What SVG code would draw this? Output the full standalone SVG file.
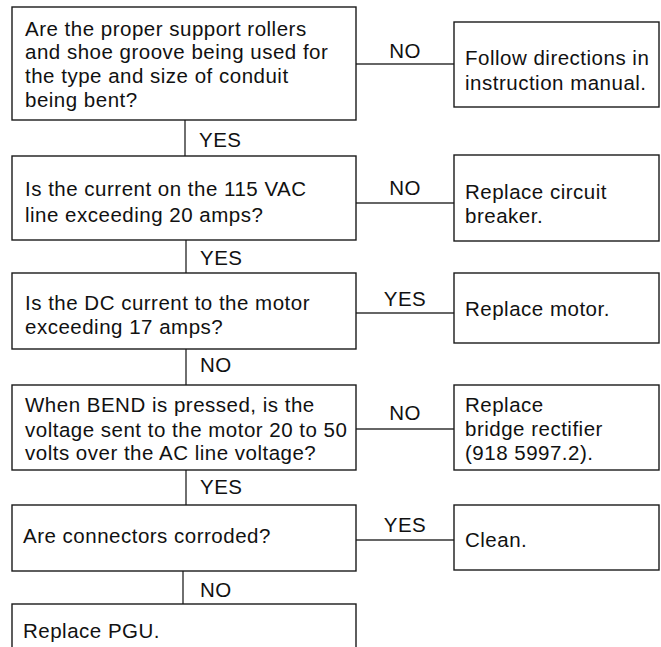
<svg xmlns="http://www.w3.org/2000/svg" width="661" height="647" viewBox="0 0 661 647">
<style>
.box{fill:#fff;stroke:#1a1a1a;stroke-width:1.4}
.t{font-family:"Liberation Sans",Arial,sans-serif;font-size:20.5px;letter-spacing:0.5px;fill:#111}
.lbl{font-family:"Liberation Sans",Arial,sans-serif;font-size:20.5px;letter-spacing:0.5px;fill:#111}
.c{fill:none;stroke:#333;stroke-width:1.4}
</style>
<rect width="661" height="647" fill="#fff"/>
<g id="connectors">
<line class="c" x1="356" y1="64" x2="454" y2="64"/>
<text class="lbl" x="405" y="58" text-anchor="middle">NO</text>
<line class="c" x1="185" y1="120" x2="185" y2="156"/>
<text class="lbl" x="199" y="146.5">YES</text>
<line class="c" x1="356" y1="203" x2="454" y2="203"/>
<text class="lbl" x="405" y="195" text-anchor="middle">NO</text>
<line class="c" x1="186" y1="240" x2="186" y2="273"/>
<text class="lbl" x="200" y="265">YES</text>
<line class="c" x1="356" y1="313" x2="454" y2="313"/>
<text class="lbl" x="405" y="305.5" text-anchor="middle">YES</text>
<line class="c" x1="186" y1="349" x2="186" y2="385"/>
<text class="lbl" x="200" y="371.5">NO</text>
<line class="c" x1="356" y1="429" x2="454" y2="429"/>
<text class="lbl" x="405" y="420" text-anchor="middle">NO</text>
<line class="c" x1="186" y1="470" x2="186" y2="505"/>
<text class="lbl" x="200" y="494">YES</text>
<line class="c" x1="356" y1="540" x2="454" y2="540"/>
<text class="lbl" x="405" y="532" text-anchor="middle">YES</text>
<line class="c" x1="183" y1="571" x2="183" y2="604"/>
<text class="lbl" x="200" y="596.5">NO</text>
</g>
<g id="q1">
<rect class="box" x="12" y="7" width="344" height="113"/>
<text class="t" x="25" y="35.5">Are the proper support rollers</text>
<text class="t" x="25" y="59.3">and shoe groove being used for</text>
<text class="t" x="25" y="83.3">the type and size of conduit</text>
<text class="t" x="25" y="107.3">being bent?</text>
</g>
<g id="a1">
<rect class="box" x="454" y="22" width="205" height="85"/>
<text class="t" x="465" y="65">Follow directions in</text>
<text class="t" x="465" y="90">instruction manual.</text>
</g>
<g id="q2">
<rect class="box" x="12" y="156" width="344" height="84"/>
<text class="t" x="25" y="195.5">Is the current on the 115 VAC</text>
<text class="t" x="25" y="221.7">line exceeding 20 amps?</text>
</g>
<g id="a2">
<rect class="box" x="454" y="155" width="205" height="86"/>
<text class="t" x="465" y="199">Replace circuit</text>
<text class="t" x="465" y="223">breaker.</text>
</g>
<g id="q3">
<rect class="box" x="12" y="273" width="344" height="76"/>
<text class="t" x="25" y="309.5">Is the DC current to the motor</text>
<text class="t" x="25" y="334">exceeding 17 amps?</text>
</g>
<g id="a3">
<rect class="box" x="454" y="273" width="205" height="70"/>
<text class="t" x="465" y="316">Replace motor.</text>
</g>
<g id="q4">
<rect class="box" x="12" y="385" width="344" height="85"/>
<text class="t" x="25" y="411.7">When BEND is pressed, is the</text>
<text class="t" x="25" y="436.5">voltage sent to the motor 20 to 50</text>
<text class="t" x="25" y="460">volts over the AC line voltage?</text>
</g>
<g id="a4">
<rect class="box" x="454" y="385" width="205" height="85"/>
<text class="t" x="465" y="411.7">Replace</text>
<text class="t" x="465" y="436">bridge rectifier</text>
<text class="t" x="465" y="460">(918 5997.2).</text>
</g>
<g id="q5">
<rect class="box" x="12" y="505" width="344" height="66"/>
<text class="t" x="23" y="543.3">Are connectors corroded?</text>
</g>
<g id="a5">
<rect class="box" x="454" y="505" width="205" height="65"/>
<text class="t" x="465" y="546.7">Clean.</text>
</g>
<g id="end">
<rect class="box" x="12" y="604" width="344" height="50"/>
<text class="t" x="23" y="638">Replace PGU.</text>
</g>
</svg>
